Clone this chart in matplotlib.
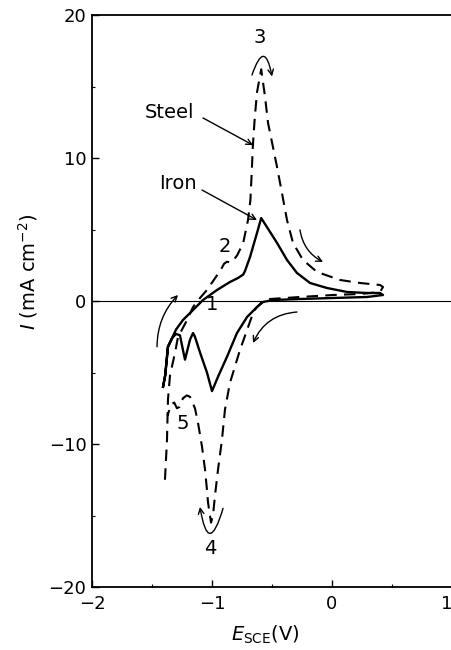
import matplotlib
matplotlib.use("Agg")
import matplotlib.pyplot as plt
from matplotlib.ticker import MultipleLocator

plt.rcParams['font.family'] = ['DejaVu Sans']
plt.rcParams['mathtext.fontset'] = 'dejavusans'

# ---- data (E in V vs SCE, I in mA cm^-2) ----
steel_E = [-1.392, -1.375, -1.367, -1.35, -1.308, -1.283, -1.25, -1.208, -1.158, -1.10,
           -1.042, -0.958, -0.925, -0.90, -0.875, -0.85, -0.83, -0.79, -0.74, -0.70,
           -0.68, -0.668, -0.66, -0.645, -0.625, -0.59,
           -0.558, -0.533, -0.492, -0.458, -0.417, -0.375, -0.325, -0.242, -0.125, 0.067,
           0.233, 0.40, 0.425,
           0.40, 0.233, 0.008, -0.267, -0.517, -0.583, -0.633, -0.658, -0.708, -0.767,
           -0.825, -0.85, -0.892, -0.917, -0.95, -0.975, -0.992, -1.008,
           -1.033, -1.042, -1.058, -1.083, -1.117, -1.142, -1.183, -1.21, -1.242, -1.27,
           -1.292, -1.315, -1.333, -1.355, -1.37]
steel_I = [-12.5, -9.7, -6.9, -5.2, -3.6, -2.5, -2.0, -1.33, -0.42, 0.21,
           0.77, 1.8, 2.2, 2.6, 2.75, 2.7, 2.75, 3.2, 4.06, 5.66,
           7.06, 9.16, 10.77, 12.66, 14.6, 16.2,
           14.27, 12.45, 10.77, 9.37, 7.55, 5.66, 4.06, 2.87, 2.03, 1.47,
           1.26, 1.12, 0.98,
           0.63, 0.49, 0.42, 0.28, 0.14, -0.07, -0.49, -0.84, -2.03, -3.43,
           -5.03, -5.7, -7.6, -9.7, -11.8, -13.6, -15.0, -15.5,
           -14.1, -13.2, -11.8, -10.2, -8.5, -7.5, -6.7, -6.6, -6.8, -7.4,
           -7.5, -7.1, -7.2, -7.6, -8.0]

iron_E = [-1.408, -1.39, -1.367, -1.333, -1.30, -1.242, -1.158, -1.075, -0.958, -0.85,
          -0.783, -0.74, -0.725, -0.683, -0.625, -0.59,
          -0.542, -0.458, -0.375, -0.292, -0.183, -0.042, 0.125, 0.292, 0.40, 0.425,
          0.292, 0.008, -0.267, -0.492, -0.575, -0.625, -0.708, -0.792, -0.875, -0.95, -1.0,
          -1.042, -1.10, -1.142, -1.158, -1.183, -1.225, -1.25, -1.267, -1.30, -1.333,
          -1.367, -1.39, -1.408]
iron_I = [-6.0, -5.2, -3.2, -2.6, -2.0, -1.33, -0.63, 0.07, 0.77, 1.33,
          1.61, 1.85, 2.1, 3.08, 4.76, 5.8,
          5.17, 4.06, 2.87, 1.96, 1.26, 0.91, 0.63, 0.56, 0.56, 0.42,
          0.28, 0.21, 0.14, 0.07, -0.07, -0.42, -1.12, -2.24, -3.9, -5.3, -6.3,
          -5.0, -3.6, -2.5, -2.24, -2.7, -4.1, -3.1, -2.4, -2.3, -2.6,
          -3.2, -5.2, -6.0]

xticks = [-2, -1, 0, 1]
yticks = [-20, -10, 0, 10, 20]

fig = plt.figure(figsize=(4.52, 6.5), dpi=100)
ax = fig.add_axes([92/452, 63/650, 360/452, 572/650])
ax.set_xlim(-2, 1)
ax.set_ylim(-20, 20)

ax.axhline(0, color='black', lw=0.8)
ax.plot(steel_E, steel_I, color='black', lw=1.5, linestyle=(0, (5.5, 3.5)))
ax.plot(iron_E, iron_I, color='black', lw=1.7)

ax.set_xticks(xticks)
ax.set_yticks(yticks)
ax.set_xticklabels(['\u22122', '\u22121', '0', '1'])
ax.set_yticklabels(['\u221220', '\u221210', '0', '10', '20'])
ax.get_xticklabels()[-1].set_horizontalalignment('right')
ax.xaxis.set_minor_locator(MultipleLocator(0.5))
ax.yaxis.set_minor_locator(MultipleLocator(5))
ax.tick_params(which='major', direction='in', length=5, width=1.0, labelsize=13, pad=4)
ax.tick_params(which='minor', direction='in', length=2.5, width=0.8)
ax.tick_params(axis='x', which='major', pad=6)
for s in ax.spines.values():
    s.set_linewidth(1.3)

fig.text(28/452, 1 - 272/650, r'$I$ (mA cm$^{-2}$)', rotation=90, ha='center', va='center', fontsize=14)
fig.text(265/452, 1 - 635/650, r'$E_{\rm SCE}$(V)', ha='center', va='center', fontsize=14)

fs = 14
ax.text(-0.6, 18.4, '3', ha='center', va='center', fontsize=fs)
ax.text(-0.89, 3.8, '2', ha='center', va='center', fontsize=fs)
ax.text(-1.0, -0.25, '1', ha='center', va='center', fontsize=fs)
ax.text(-1.242, -8.6, '5', ha='center', va='center', fontsize=fs)
ax.text(-1.017, -17.3, '4', ha='center', va='center', fontsize=fs)

ap = dict(arrowstyle='->', color='black', lw=1.0, mutation_scale=10, shrinkA=0, shrinkB=0)
ax.text(-1.35, 13.2, 'Steel', ha='center', va='center', fontsize=fs)
ax.annotate('', xy=(-0.658, 10.9), xytext=(-1.075, 12.8), arrowprops=ap)
ax.text(-1.28, 8.2, 'Iron', ha='center', va='center', fontsize=fs)
ax.annotate('', xy=(-0.625, 5.66), xytext=(-1.083, 7.76), arrowprops=ap)

def carrow(xy, xytext, rad):
    d = dict(ap)
    d['connectionstyle'] = 'arc3,rad=%s' % rad
    ax.annotate('', xy=xy, xytext=xytext, arrowprops=d)

carrow((-0.5, 15.7), (-0.667, 15.8), -1.9)
carrow((-1.1, -14.4), (-0.908, -14.5), -2.2)
carrow((-1.283, 0.42), (-1.458, -3.2), -0.2)
carrow((-0.658, -2.94), (-0.292, -0.77), 0.3)
carrow((-0.075, 2.73), (-0.267, 4.97), 0.25)

fig.savefig('out.png', dpi=100)
